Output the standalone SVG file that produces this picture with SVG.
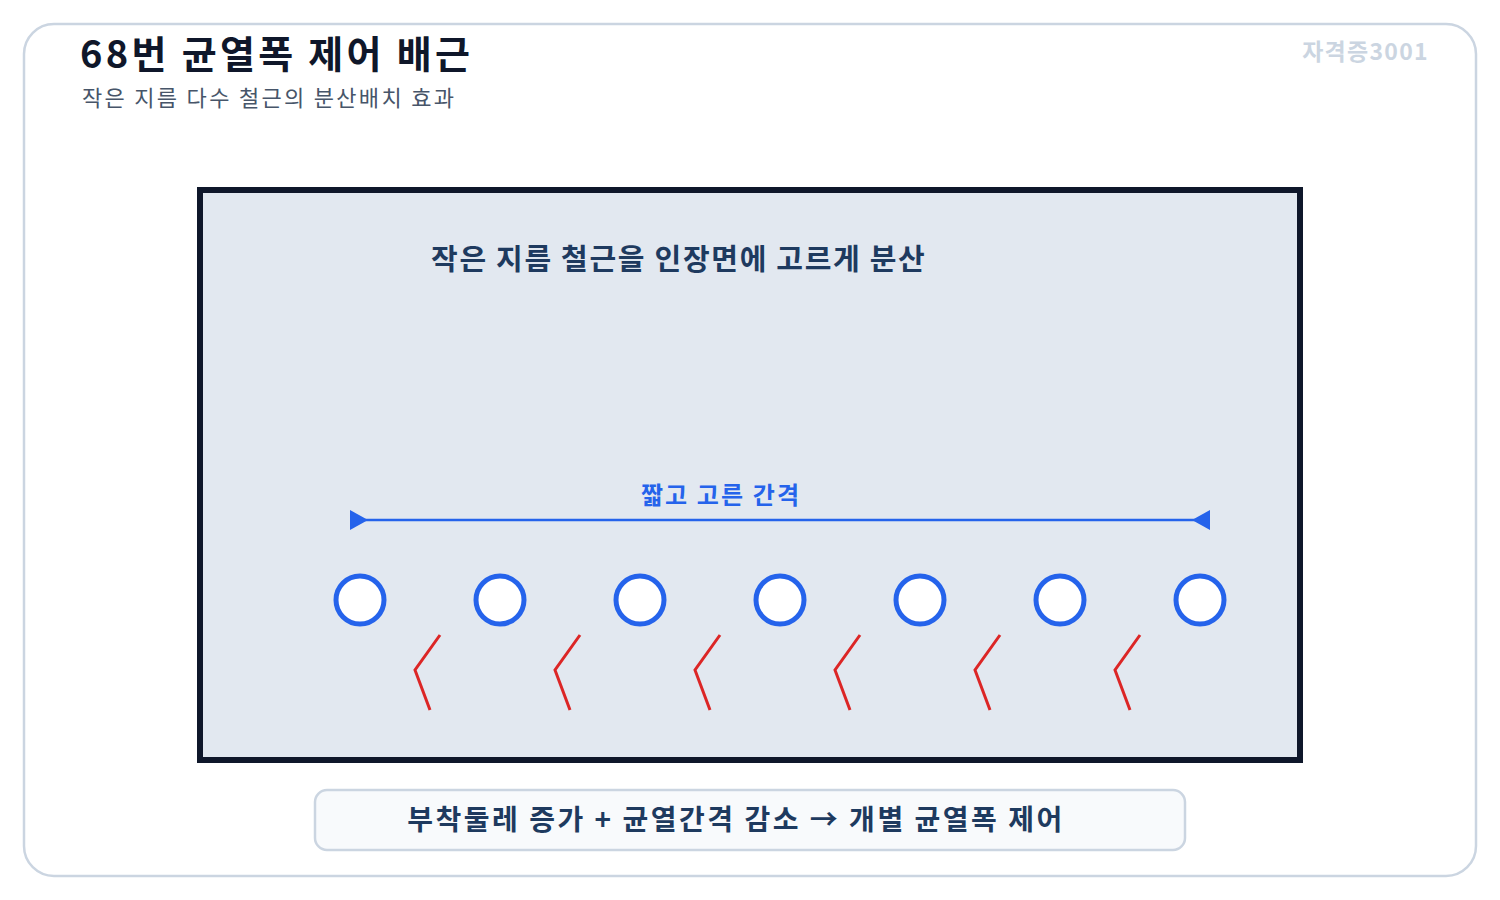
<svg xmlns="http://www.w3.org/2000/svg" width="1500" height="900" viewBox="0 0 1500 900">
<defs>
<style>
.t{font-family:"Noto Sans CJK KR","Noto Sans",sans-serif}
.bar{fill:#fff;stroke:#2563eb;stroke-width:5}
.crack{fill:none;stroke:#dc2626;stroke-width:3}
</style>
<marker id="ms" viewBox="0 0 18 20" refX="0" refY="10" markerWidth="18" markerHeight="20" markerUnits="userSpaceOnUse" orient="auto"><path d="M0,0 L18,10 L0,20 Z" fill="#2563eb"/></marker>
<marker id="me" viewBox="0 0 18 20" refX="18" refY="10" markerWidth="18" markerHeight="20" markerUnits="userSpaceOnUse" orient="auto"><path d="M18,0 L0,10 L18,20 Z" fill="#2563eb"/></marker>
</defs>
<rect x="0" y="0" width="1500" height="900" fill="#fff"/>
<rect x="24" y="24" width="1452" height="852" rx="30" fill="#fff" stroke="#cbd5e1" stroke-width="2.5"/>
<g id="title">
<text class="t" x="80" y="68" font-size="38" font-weight="700" fill="#0f172a" letter-spacing="3.3">68번 균열폭 제어 배근</text>
<text class="t" x="82" y="106" font-size="22" fill="#475569" letter-spacing="2.3">작은 지름 다수 철근의 분산배치 효과</text>
</g>
<text class="t" x="1429" y="60" font-size="23" font-weight="700" fill="#cbd5e1" text-anchor="end" letter-spacing="1.3">자격증3001</text>
<g id="beam">
<rect x="200" y="190" width="1100" height="570" fill="#e2e8f0" stroke="#0f172a" stroke-width="6"/>
<text class="t" x="431" y="270" font-size="29" font-weight="700" fill="#1e3a5f" letter-spacing="1.7">작은 지름 철근을 인장면에 고르게 분산</text>
</g>
<g id="spacing-label">
<text class="t" x="721" y="504" font-size="24" font-weight="700" fill="#2563eb" text-anchor="middle" letter-spacing="2.1">짧고 고른 간격</text>
</g>
<g id="connectors">
<line x1="350" y1="520" x2="1210" y2="520" stroke="#2563eb" stroke-width="2.5" marker-start="url(#ms)" marker-end="url(#me)"/>
</g>
<g id="bars">
<circle id="bar1" class="bar" cx="360" cy="600" r="24"/>
<circle id="bar2" class="bar" cx="500" cy="600" r="24"/>
<circle id="bar3" class="bar" cx="640" cy="600" r="24"/>
<circle id="bar4" class="bar" cx="780" cy="600" r="24"/>
<circle id="bar5" class="bar" cx="920" cy="600" r="24"/>
<circle id="bar6" class="bar" cx="1060" cy="600" r="24"/>
<circle id="bar7" class="bar" cx="1200" cy="600" r="24"/>
</g>
<g id="cracks">
<polyline class="crack" points="440,635 415,670 430,710"/>
<polyline class="crack" points="580,635 555,670 570,710"/>
<polyline class="crack" points="720,635 695,670 710,710"/>
<polyline class="crack" points="860,635 835,670 850,710"/>
<polyline class="crack" points="1000,635 975,670 990,710"/>
<polyline class="crack" points="1140,635 1115,670 1130,710"/>
</g>
<g id="summary">
<rect x="315" y="790" width="870" height="60" rx="12" fill="#f8fafc" stroke="#cbd5e1" stroke-width="2.5"/>
<text class="t" x="736" y="830" font-size="28" font-weight="700" fill="#1e3a5f" text-anchor="middle" letter-spacing="2.5">부착둘레 증가 + 균열간격 감소 → 개별 균열폭 제어</text>
</g>
</svg>
